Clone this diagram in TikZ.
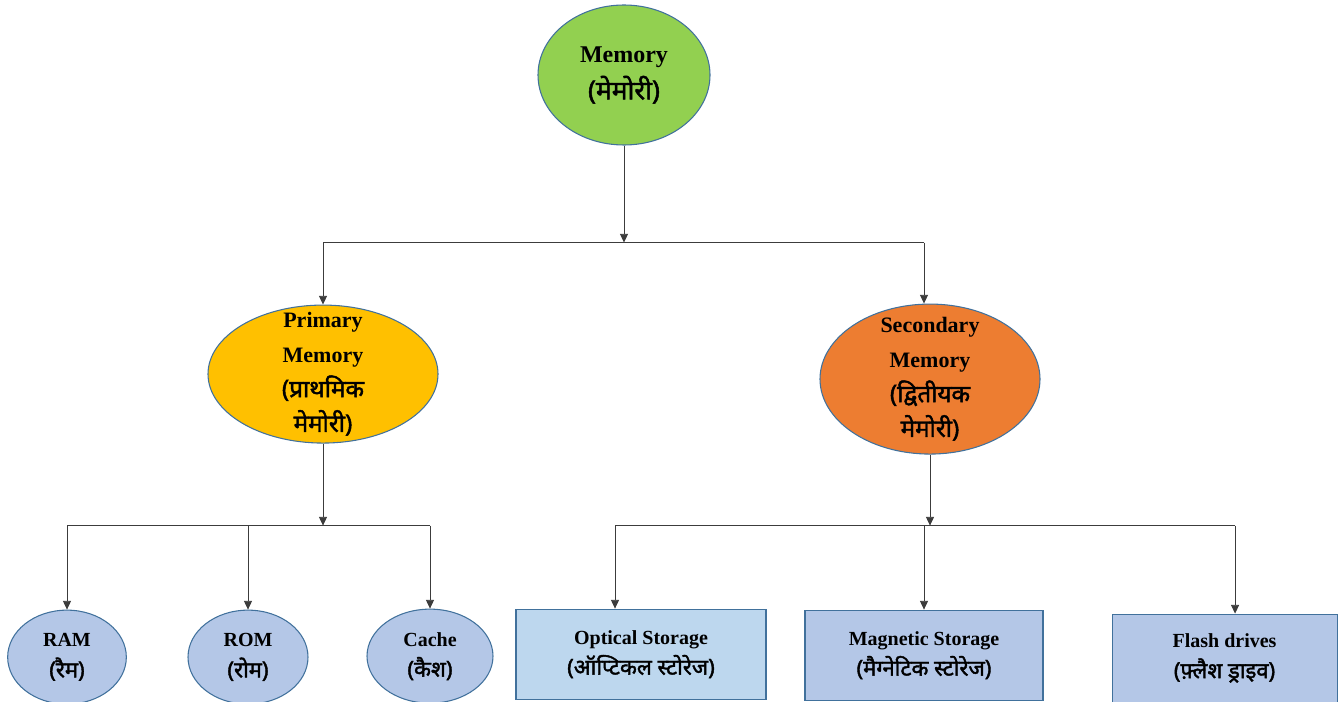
\documentclass[tikz,border=0pt]{standalone}
\usepackage{fontspec}
\setmainfont{Liberation Serif}
\newfontfamily\hindi[Script=Devanagari, Scale=1.1, FakeBold=1.8]{Noto Sans}
\usetikzlibrary{positioning,arrows.meta,calc,shapes.geometric}
\definecolor{memFill}{RGB}{146,208,80}
\definecolor{priFill}{RGB}{255,192,0}
\definecolor{secFill}{RGB}{237,125,49}
\definecolor{leafFill}{RGB}{180,199,231}
\definecolor{optFill}{RGB}{189,215,238}
\definecolor{nodeLine}{RGB}{65,113,156}
\definecolor{wire}{RGB}{60,60,60}
\tikzset{
  bubble/.style={ellipse, draw=nodeLine, line width=0.8pt, inner sep=0pt, align=center},
  leaf/.style={bubble, fill=leafFill, minimum width=89pt, minimum height=70.5pt,
               font=\fontsize{15}{23}\selectfont\bfseries},
  slab/.style={rectangle, draw=nodeLine, line width=0.8pt, fill=leafFill, inner sep=0pt,
               minimum height=67.5pt, align=center, font=\fontsize{15}{23}\selectfont\bfseries},
  midtext/.style={align=center, font=\fontsize{16.5}{26}\selectfont\bfseries},
  flow/.style={-{Triangle[length=6.5pt,width=6pt]}, draw=wire, line width=0.6pt},
  bus/.style={draw=wire, line width=0.6pt},
}
\begin{document}
\begin{tikzpicture}[x=0.75pt, y=-0.75pt]
  \useasboundingbox (0,0) rectangle (1343,702);
  % top
  \node[bubble, fill=memFill, minimum width=129pt, minimum height=105pt,
        font=\fontsize{18}{28}\selectfont\bfseries] (mem) at (624,75) {Memory\\\hindi(मेमोरी)};
  % second level
  \node[bubble, fill=priFill, minimum width=172.5pt, minimum height=103.5pt,
        below=119.25pt of mem, xshift=-225.75pt,
        label={[midtext]center:Primary\\Memory\\\hindi(प्राथमिक\\\hindi मेमोरी)}] (pri) {};
  \node[bubble, fill=secFill, minimum width=165pt, minimum height=112.5pt,
        below=118.5pt of mem, xshift=229.5pt,
        label={[midtext]center:Secondary\\Memory\\\hindi(द्वितीयक\\\hindi मेमोरी)}] (sec) {};
  % leaves
  \node[leaf, below=124.5pt of pri, xshift=-192pt] (ram) {RAM\\\hindi(रैम)};
  \node[leaf, minimum width=90pt, below=124.5pt of pri, xshift=-56.25pt] (rom) {ROM\\\hindi(रोम)};
  \node[leaf, minimum width=94.5pt, below=123.75pt of pri, xshift=80.25pt] (cac) {Cache\\\hindi(कैश)};
  \node[slab, fill=optFill, minimum width=187.5pt, below=115.5pt of sec, xshift=-216.75pt] (opt)
        {Optical Storage\\\hindi(ऑप्टिकल स्टोरेज)};
  \node[slab, minimum width=178.5pt, below=116.25pt of sec, xshift=-4.5pt] (mag)
        {Magnetic Storage\\\hindi(मैग्नेटिक स्टोरेज)};
  \node[slab, minimum width=168.75pt, minimum height=66pt, below=119.25pt of sec, xshift=220.9pt] (fla)
        {Flash drives\\\hindi(फ़्लैश ड्राइव)};
  % connectors
  \coordinate (b1) at ($(mem.south)+(0,97)$);
  \coordinate (secIn) at ([xshift=-4.5pt]sec.north);
  \draw[flow] (mem) -- (b1);
  \draw[bus] (pri.north |- b1) -- (secIn |- b1);
  \draw[flow] (pri.north |- b1) -- (pri);
  \draw[flow] (secIn |- b1) -- (secIn);
  \coordinate (b2) at ($(pri.south)+(0,82)$);
  \draw[flow] (pri) -- (b2);
  \draw[bus] (ram.north |- b2) -- (cac.north |- b2);
  \draw[flow] (ram.north |- b2) -- (ram);
  \draw[flow] (rom.north |- b2) -- (rom);
  \draw[flow] (cac.north |- b2) -- (cac);
  \coordinate (b3) at ($(sec.south)+(0,71)$);
  \coordinate (optIn) at ([xshift=-19.5pt]opt.north);
  \coordinate (flaIn) at ([xshift=7.9pt]fla.north);
  \draw[flow] (sec) -- (b3);
  \draw[bus] (optIn |- b3) -- (flaIn |- b3);
  \draw[flow] (optIn |- b3) -- (optIn);
  \draw[flow] (mag.north |- b3) -- (mag);
  \draw[flow] (flaIn |- b3) -- (flaIn);
\end{tikzpicture}
\end{document}
